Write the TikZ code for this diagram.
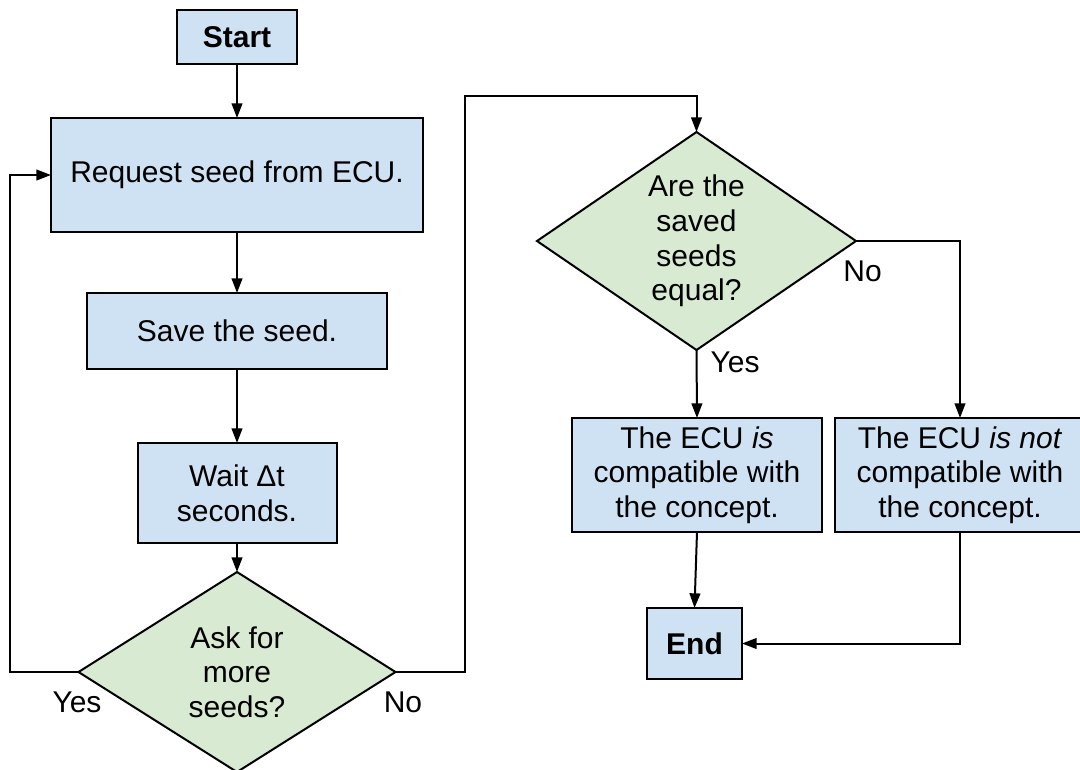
\documentclass[tikz,border=0pt]{standalone}
\usepackage{fontspec}
\setmainfont{Liberation Sans}
\usetikzlibrary{shapes.geometric,arrows.meta}
\definecolor{boxblue}{HTML}{CFE2F3}
\definecolor{diagreen}{HTML}{D9EAD3}
\tikzset{
  base/.style={draw=black, line width=1.5pt, inner sep=0pt, outer sep=0pt, align=center,
    font=\fontsize{22.5}{25.9}\selectfont},
  procbox/.style={base, rectangle, fill=boxblue},
  decision/.style={base, diamond, fill=diagreen},
  txt/.style={inner sep=0pt, align=center, font=\fontsize{22.5}{25.9}\selectfont},
  arr/.style={line width=1.5pt, -{Triangle[length=11pt,width=8pt]}},
  con/.style={line width=1.5pt}
}
\begin{document}
\begin{tikzpicture}[x=0.75pt,y=-0.75pt]
\useasboundingbox (0,0) rectangle (1080,769);
% nodes
\node[procbox, minimum width=90pt, minimum height=40.5pt] (start) at (237,37) {\textbf{Start}};
\node[procbox, minimum width=279pt, minimum height=85.5pt] (req) at (237,175) {Request seed from ECU.};
\node[procbox, minimum width=225pt, minimum height=57pt] (save) at (237,331) {Save the seed.};
\node[procbox, minimum width=149.25pt, minimum height=75pt] (wait) at (237,493) {Wait Δt\\seconds.};
\node[decision, minimum width=237.75pt, minimum height=150pt] (d1) at (237,672) {};
\node[txt] (d1t) at (d1) {Ask for\\more\\seeds?};
\node[decision, minimum width=239.25pt, minimum height=163.5pt] (d2) at (696.5,241) {};
\node[txt] (d2t) at (d2) {Are the\\saved\\seeds\\equal?};
\node[procbox, minimum width=187.5pt, minimum height=85.5pt] (yesbox) at (697,475) {The ECU \textit{is}\\compatible with\\the concept.};
\node[procbox, minimum width=187.5pt, minimum height=85.5pt] (nobox) at (960,475) {The ECU \textit{is not}\\compatible with\\the concept.};
\node[procbox, minimum width=71.25pt, minimum height=53.25pt] (end) at (694.5,643.5) {\textbf{End}};
% labels
\node[txt] (l1) at (77,702) {Yes};
\node[txt] (l2) at (403,702) {No};
\node[txt] (l3) at (862.5,271) {No};
\node[txt] (l4) at (735,362) {Yes};
% connectors
\draw[arr] (start.south) -- (req.north);
\draw[arr] (req.south) -- (save.north);
\draw[arr] (save.south) -- (wait.north);
\draw[arr] (wait.south) -- (d1.north);
\draw[arr] (d1.west) -| (10,175) -- (req.west);
\draw[arr] (d1.east) -| (465,96) -| (d2.north);
\draw[arr] (d2.south) -- (yesbox.north);
\draw[arr] (d2.east) -| (nobox.north);
\draw[arr] (yesbox.south) -- (end.north);
\draw[arr] (nobox.south) |- (end.east);
\end{tikzpicture}
\end{document}
